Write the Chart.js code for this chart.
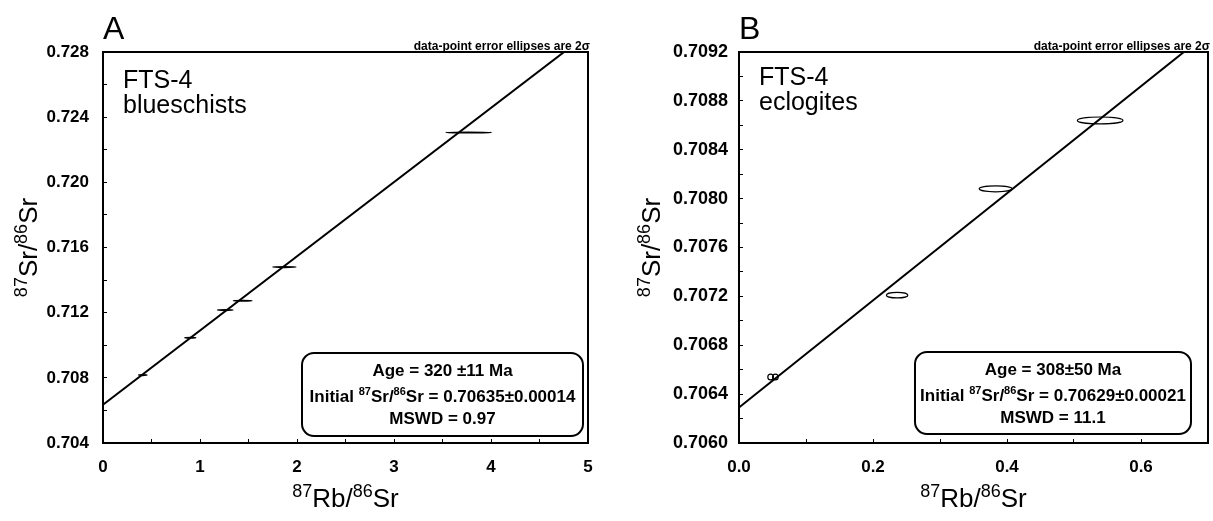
<!DOCTYPE html>
<html lang="en">

<head>
    <meta charset="UTF-8">
    <script src="https://cdn.jsdelivr.net/npm/chart.js"></script>
    <title>Rb-Sr isochrons</title>
    <style>
        body { margin: 0; background: #fff; }
        .painel { position: absolute; top: 0; }
        #painelA { left: 0; }
        #painelB { left: 606px; }
    </style>
</head>

<body>
    <div class="painel" id="painelA"><canvas id="chartA" width="606" height="521"></canvas></div>
    <div class="painel" id="painelB"><canvas id="chartB" width="607" height="521"></canvas></div>
</body>

</html>

<script>
    // A - blueschists
    let rbA = [0.41, 0.90, 1.26, 1.44, 1.87, 3.77]
    let srA = [0.70817, 0.71046, 0.71216, 0.71273, 0.71480, 0.72306]
    let errRbA = [0.043, 0.057, 0.080, 0.096, 0.120, 0.235]
    let errSrA = [0.00002, 0.00002, 0.00002, 0.00002, 0.00002, 0.00002]
    let interceptA = 0.70635
    let slopeA = 0.004555

    // B - eclogites
    let rbB = [0.0472, 0.0543, 0.236, 0.383, 0.539]
    let srB = [0.70654, 0.70654, 0.70721, 0.70808, 0.70864]
    let errRbB = [0.0042, 0.0042, 0.016, 0.0245, 0.034]
    let errSrB = [0.000024, 0.000024, 0.000023, 0.000024, 0.000028]
    let interceptB = 0.70629
    let slopeB = 0.004383

    const fonte = "'Liberation Sans', Arial, sans-serif"

    // texto com sobrescritos: partes [texto, sobrescrito?]
    function larguraPartes(ctx, partes, tam, tamSup, peso) {
        let w = 0
        for (const p of partes) {
            ctx.font = (peso || '') + ' ' + (p[1] ? tamSup : tam) + 'px ' + fonte
            w += ctx.measureText(p[0]).width
        }
        return w
    }
    function desenhaPartes(ctx, partes, x, y, tam, tamSup, subida, peso) {
        const w = larguraPartes(ctx, partes, tam, tamSup, peso)
        let cx = x - w / 2
        ctx.textAlign = 'left'
        ctx.textBaseline = 'alphabetic'
        for (const p of partes) {
            ctx.font = (peso || '') + ' ' + (p[1] ? tamSup : tam) + 'px ' + fonte
            ctx.fillText(p[0], cx, p[1] ? y - subida : y)
            cx += ctx.measureText(p[0]).width
        }
    }

    const anotacoes = {
        id: 'anotacoes',
        afterDatasetsDraw(chart, args, o) {
            const ctx = chart.ctx
            const xs = chart.scales.x, ys = chart.scales.y
            const pts = chart.data.datasets[1]
            ctx.save()
            ctx.beginPath()
            ctx.rect(chart.chartArea.left, chart.chartArea.top, chart.chartArea.width, chart.chartArea.height)
            ctx.clip()
            ctx.strokeStyle = '#000'
            ctx.lineWidth = o.espessura
            pts.data.forEach((p, i) => {
                const px = xs.getPixelForValue(p.x), py = ys.getPixelForValue(p.y)
                const rx = Math.abs(xs.getPixelForValue(p.x + o.errX[i]) - px)
                const ry = Math.abs(ys.getPixelForValue(p.y + o.errY[i]) - py)
                ctx.beginPath()
                ctx.ellipse(px, py, rx, Math.max(ry, 0.4), 0, 0, Math.PI * 2)
                ctx.stroke()
            })
            ctx.restore()
        },
        afterDraw(chart, args, o) {
            const ctx = chart.ctx
            const a = chart.chartArea
            ctx.save()
            ctx.fillStyle = '#000'
            ctx.strokeStyle = '#000'

            // moldura
            ctx.lineWidth = 2
            ctx.beginPath()
            ctx.moveTo(a.left, a.top); ctx.lineTo(a.right, a.top); ctx.lineTo(a.right, a.bottom)
            ctx.stroke()

            // letra do painel
            ctx.font = '32px ' + fonte
            ctx.textAlign = 'left'
            ctx.fillText(o.letra, a.left, 39)

            ctx.font = 'bold 12px ' + fonte
            ctx.textAlign = 'right'
            ctx.fillText('data-point error ellipses are 2\u03c3', a.right + 2, a.top - 2)

            ctx.textAlign = 'left'
            ctx.font = '25px ' + fonte
            ctx.fillText('FTS-4', a.left + 20, o.yAmostra)
            ctx.fillText(o.amostra, a.left + 20, o.yAmostra + 25)

            // caixa com resultado
            const c = o.caixa
            ctx.lineWidth = 2
            ctx.beginPath()
            ctx.roundRect(c[0], c[1], c[2] - c[0], c[3] - c[1], 12)
            ctx.stroke()
            const meio = (c[0] + c[2]) / 2
            desenhaPartes(ctx, [[o.idade, false]], meio, c[1] + 23, 17, 11, 6, 'bold')
            desenhaPartes(ctx, [['Initial ', false], ['87', true], ['Sr/', false], ['86', true], ['Sr = ' + o.inicial, false]], meio, c[1] + 49, 17, 11, 7, 'bold')
            desenhaPartes(ctx, [['MSWD = ' + o.mswd, false]], meio, c[1] + 71, 17, 11, 6, 'bold')

            // titulos dos eixos
            desenhaPartes(ctx, [['87', true], ['Rb/', false], ['86', true], ['Sr', false]], (a.left + a.right) / 2, 507, 26, 18, 10, '')
            ctx.translate(o.xTituloY, (a.top + a.bottom) / 2)
            ctx.rotate(-Math.PI / 2)
            desenhaPartes(ctx, [['87', true], ['Sr/', false], ['86', true], ['Sr', false]], 0, 0, 26, 18, 10, '')
            ctx.restore()
        }
    }

    function escalas(xmin, xmax, xpasso, xrotulo, ymin, ymax, ypasso, yrotulo, larguraY, tamY, padY) {
        return {
            x: {
                type: 'linear', min: xmin, max: xmax,
                afterFit: s => { s.height = 78; s.paddingLeft = 0; s.paddingRight = 0 },
                border: { display: true, color: '#000', width: 2 },
                grid: { drawOnChartArea: false, drawTicks: true, tickLength: -4, color: '#000', lineWidth: 1 },
                ticks: {
                    stepSize: xpasso, color: '#000', padding: 18, maxRotation: 0, autoSkip: false,
                    font: { family: fonte, size: 17, weight: 'bold' },
                    callback: xrotulo
                }
            },
            y: {
                type: 'linear', min: ymin, max: ymax,
                afterFit: s => { s.width = larguraY; s.paddingTop = 0; s.paddingBottom = 0 },
                border: { display: true, color: '#000', width: 2 },
                grid: { drawOnChartArea: false, drawTicks: true, tickLength: -4, color: '#000', lineWidth: 1 },
                ticks: {
                    stepSize: ypasso, color: '#000', padding: padY, autoSkip: false,
                    font: { family: fonte, size: tamY, weight: 'bold' },
                    callback: yrotulo
                }
            }
        }
    }

    function plotar(id, rb, sr, intercepto, inclinacao, xmax, opcoesEscala, anot) {
        new Chart(document.getElementById(id), {
            type: 'scatter',
            data: {
                datasets: [{
                    type: 'line',
                    data: [{ x: 0, y: intercepto }, { x: xmax, y: intercepto + inclinacao * xmax }],
                    borderColor: '#000', borderWidth: 2, pointRadius: 0, fill: false
                }, {
                    data: rb.map((v, i) => ({ x: v, y: sr[i] })),
                    pointRadius: 0, showLine: false
                }]
            },
            options: {
                responsive: false, animation: false, devicePixelRatio: 1,
                layout: { padding: { top: 52, right: anot.direita, left: 0, bottom: 0 } },
                plugins: { legend: { display: false }, tooltip: { enabled: false }, anotacoes: anot },
                scales: opcoesEscala
            },
            plugins: [anotacoes]
        })
    }

    window.onload = () => {
        plotar('chartA', rbA, srA, interceptA, slopeA, 5,
            escalas(0, 5, 0.5, v => Number.isInteger(v) ? String(v) : '',
                0.704, 0.728, 0.002, v => Math.round(v * 1000) % 4 === 0 ? v.toFixed(3) : '', 103, 17, 18),
            {
                letra: 'A', amostra: 'blueschists', yAmostra: 88, direita: 18, espessura: 1.4,
                errX: errRbA, errY: errSrA, caixa: [302, 353, 583, 436],
                idade: 'Age = 320 \u00b111 Ma', inicial: '0.70635\u00b10.00014', mswd: '0.97', xTituloY: 37
            })

        plotar('chartB', rbB, srB, interceptB, slopeB, 0.7,
            escalas(0, 0.7, 0.1, v => Math.round(v * 10) % 2 === 0 ? v.toFixed(1) : '',
                0.706, 0.7092, 0.0002, v => Math.round(v * 10000) % 4 === 0 ? v.toFixed(4) : '', 133, 18, 15),
            {
                letra: 'B', amostra: 'eclogites', yAmostra: 85, direita: 5, espessura: 1.2,
                errX: errRbB, errY: errSrB, caixa: [309, 352, 585, 434],
                idade: 'Age = 308\u00b150 Ma', inicial: '0.70629\u00b10.00021', mswd: '11.1', xTituloY: 54
            })
    }
</script>
